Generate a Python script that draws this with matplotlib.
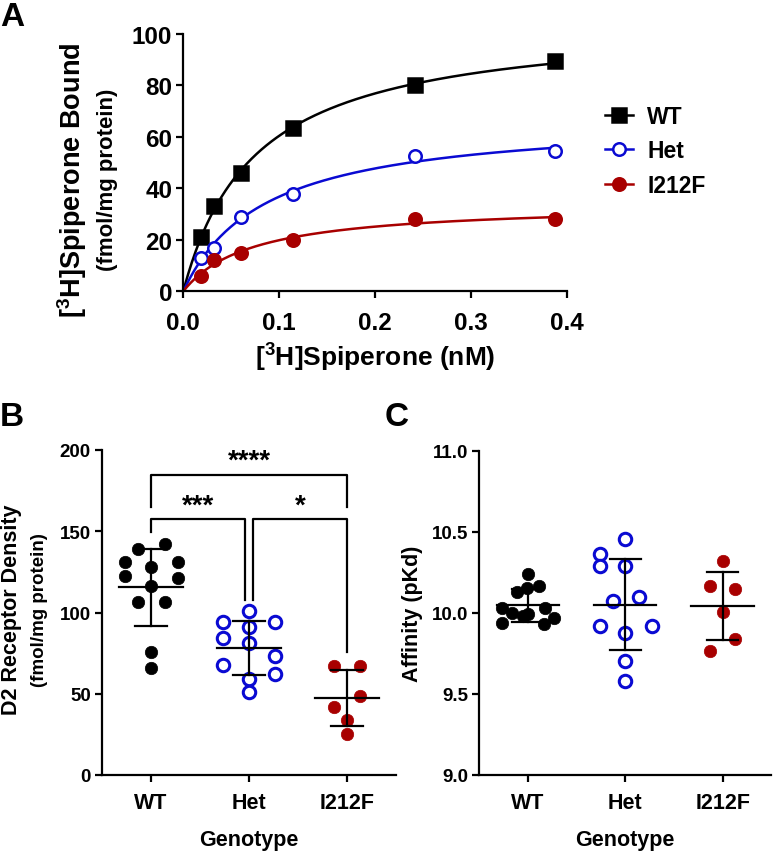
import numpy as np
import matplotlib
matplotlib.use("Agg")
import matplotlib.pyplot as plt
from matplotlib.lines import Line2D

plt.rcParams['font.family'] = ['Liberation Sans', 'DejaVu Sans']
plt.rcParams['font.weight'] = 'bold'
plt.rcParams['mathtext.fontset'] = 'custom'
plt.rcParams['mathtext.rm'] = 'Liberation Sans:bold'
plt.rcParams['mathtext.bf'] = 'Liberation Sans:bold'
plt.rcParams['mathtext.it'] = 'Liberation Sans:bold'

# ---------------- data ----------------
conc = [0.018, 0.032, 0.06, 0.115, 0.242, 0.388]
bound_wt = [21, 33, 46, 63.5, 80, 89.5]
bound_het = [13, 17, 29, 38, 52.5, 54.5]
bound_i212f = [6, 12, 15, 20, 28, 28]

genotypes = ['WT', 'Het', 'I212F']
density_wt = [142, 139, 131, 128, 131, 122.5, 121, 116.5, 106.6, 106.6, 76, 66]
density_het = [101, 94, 94, 91, 84.5, 81, 73, 68, 62, 59, 51]
density_i212f = [67, 67, 48.7, 42, 34, 25]

pkd_wt = [10.24, 10.165, 10.155, 10.13, 10.03, 10.03, 10.00, 9.99, 9.98, 9.97, 9.94, 9.93]
pkd_het = [10.455, 10.36, 10.29, 10.29, 10.07, 10.10, 9.92, 9.92, 9.875, 9.70, 9.58]
pkd_i212f = [10.32, 10.163, 10.147, 10.007, 9.84, 9.767]

# ---------------- layout / styles ----------------
W, H = 774, 853
BLACK = '#000000'
BLUE = '#0a0ad2'
RED = '#a80000'
colors = [BLACK, BLUE, RED]

# horizontal swarm offsets (layout only)
off_b = [
    [0.14, -0.13, -0.265, 0.0, 0.28, -0.265, 0.28, 0.0, -0.13, 0.14, 0.0, 0.0],
    [0.0, -0.265, 0.27, 0.0, -0.265, 0.0, 0.27, -0.265, 0.27, 0.0, 0.0],
    [-0.13, 0.135, 0.135, -0.13, 0.0, 0.0],
]
off_c = [
    [0.0, 0.11, -0.01, -0.11, -0.27, 0.17, -0.16, 0.0, -0.05, 0.27, -0.27, 0.16],
    [0.0, -0.265, -0.265, 0.0, -0.13, 0.14, -0.265, 0.275, 0.0, 0.0, 0.0],
    [0.0, -0.13, 0.13, 0.0, 0.13, -0.13],
]


def fa(x0, y0, x1, y1):
    return [x0 / W, 1 - y1 / H, (x1 - x0) / W, (y1 - y0) / H]


fig = plt.figure(figsize=(W / 100, H / 100), dpi=100)

SPINE_LW = 1.6


def style_axes(ax, tick_fs):
    for s in ['top', 'right']:
        ax.spines[s].set_visible(False)
    for s in ['left', 'bottom']:
        ax.spines[s].set_linewidth(SPINE_LW)
    ax.tick_params(width=SPINE_LW, length=5, labelsize=tick_fs, direction='out', pad=3)
    for lab in ax.get_xticklabels() + ax.get_yticklabels():
        lab.set_fontweight('bold')


# ---------------- Panel A ----------------
axA = fig.add_axes(fa(183.3, 35, 566.6, 292.3))
xfit = np.linspace(0, max(conc), 300)
xa = np.array(conc)


def fit_one_site(y):
    y = np.array(y)
    best = None
    for kd in np.linspace(0.005, 0.5, 4000):
        f = xa / (kd + xa)
        bmax = f.dot(y) / f.dot(f)
        sse = ((y - bmax * f) ** 2).sum()
        if best is None or sse < best[0]:
            best = (sse, bmax, kd)
    return best[1], best[2]


series = [
    ('WT', bound_wt, BLACK, 's', BLACK),
    ('Het', bound_het, BLUE, 'o', 'white'),
    ('I212F', bound_i212f, RED, 'o', RED),
]
handles = []
for name, y, c, m, fc in series:
    bmax, kd = fit_one_site(y)
    axA.plot(xfit, bmax * xfit / (kd + xfit), color=c, lw=1.8, zorder=2)
    ms = 9.5 if m == 's' else 9
    axA.plot(conc, y, linestyle='none', marker=m, ms=ms, mfc=fc, mec=c,
             mew=1.8, zorder=3, clip_on=False)
    handles.append(Line2D([], [], color=c, lw=1.8, marker=m, ms=ms, mfc=fc,
                          mec=c, mew=1.8, label=name))

axA.set_xlim(0, 0.4)
axA.set_ylim(0, 100)
axA.set_xticks([0.0, 0.1, 0.2, 0.3, 0.4])
axA.set_xticklabels(['0.0', '0.1', '0.2', '0.3', '0.4'])
axA.set_yticks([0, 20, 40, 60, 80, 100])
style_axes(axA, 17.5)
axA.tick_params(axis='x', pad=9)

leg = axA.legend(handles=handles, loc='upper left', bbox_to_anchor=(605 / W, 1 - 106 / H),
                 bbox_transform=fig.transFigure, frameon=False, fontsize=16.5,
                 handlelength=1.2, handletextpad=0.65, labelspacing=0.5, borderpad=0,
                 borderaxespad=0)
for t in leg.get_texts():
    t.set_fontweight('bold')

fig.text(72 / W, 1 - 180 / H, r'[$^{3}$H]Spiperone Bound', rotation=90,
         ha='center', va='center', fontsize=19.5, fontweight='bold')
fig.text(108 / W, 1 - 180 / H, '(fmol/mg protein)', rotation=90,
         ha='center', va='center', fontsize=16, fontweight='bold')
fig.text(375 / W, 1 - 358 / H, r'[$^{3}$H]Spiperone (nM)', ha='center', va='center',
         fontsize=19, fontweight='bold')
fig.text(0 / W, 1 - 17 / H, 'A', ha='left', va='center', fontsize=24, fontweight='bold')


# ---------------- dot plots ----------------
def dot_plot(ax, groups, offsets, half_mean=0.33, half_cap=0.16):
    for i, (vals, offs) in enumerate(zip(groups, offsets)):
        c = colors[i]
        v = np.array(vals)
        xs = i + np.array(offs)
        fc = 'white' if i == 1 else c
        ax.scatter(xs, v, s=80, facecolors=fc, edgecolors=c, linewidths=2.2 if i == 1 else 0.5,
                   zorder=3, clip_on=False)
        m = v.mean()
        sd = v.std(ddof=1)
        ax.plot([i - half_mean, i + half_mean], [m, m], color=BLACK, lw=1.6, zorder=4)
        ax.plot([i, i], [m - sd, m + sd], color=BLACK, lw=1.6, zorder=4)
        for yy in (m - sd, m + sd):
            ax.plot([i - half_cap, i + half_cap], [yy, yy], color=BLACK, lw=1.6, zorder=4)
    ax.set_xlim(-0.5, 2.5)
    ax.set_xticks(range(len(genotypes)))
    ax.set_xticklabels(genotypes)


# Panel B
axB = fig.add_axes(fa(102, 451, 396, 776))
dot_plot(axB, [density_wt, density_het, density_i212f], off_b)
axB.set_ylim(0, 200)
axB.set_yticks([0, 50, 100, 150, 200])
style_axes(axB, 13.5)
axB.tick_params(axis='x', labelsize=15.5, pad=7)
axB.set_xlabel('Genotype', fontsize=15.5, fontweight='bold', labelpad=12)

BR_LW = 1.6
# **** bracket
axB.plot([0, 0, 2, 2], [165, 184.5, 184.5, 165], color=BLACK, lw=BR_LW, clip_on=False)
axB.text(1, 193.4, '****', ha='center', va='center', fontsize=20, fontweight='bold')
# *** bracket
axB.plot([0, 0, 0.963, 0.963], [149.6, 157.4, 157.4, 108], color=BLACK, lw=BR_LW)
axB.text(0.483, 165.7, '***', ha='center', va='center', fontsize=20, fontweight='bold')
# * bracket
axB.plot([1.044, 1.044, 2, 2], [108, 157.4, 157.4, 75.6], color=BLACK, lw=BR_LW)
axB.text(1.52, 165.7, '*', ha='center', va='center', fontsize=20, fontweight='bold')

fig.text(12 / W, 1 - 610 / H, 'D2 Receptor Density', rotation=90, ha='center', va='center',
         fontsize=15.5, fontweight='bold')
fig.text(40 / W, 1 - 610 / H, '(fmol/mg protein)', rotation=90, ha='center', va='center',
         fontsize=13.5, fontweight='bold')
fig.text(0 / W, 1 - 418 / H, 'B', ha='left', va='center', fontsize=24, fontweight='bold')

# Panel C
axC = fig.add_axes(fa(479.3, 451.7, 771.3, 776))
dot_plot(axC, [pkd_wt, pkd_het, pkd_i212f], off_c, half_mean=0.32)
axC.set_ylim(9.0, 11.0)
axC.set_yticks([9.0, 9.5, 10.0, 10.5, 11.0])
axC.set_yticklabels(['9.0', '9.5', '10.0', '10.5', '11.0'])
style_axes(axC, 13.5)
axC.tick_params(axis='x', labelsize=15.5, pad=7)
axC.set_xlabel('Genotype', fontsize=15.5, fontweight='bold', labelpad=12)
axC.set_ylabel('Affinity (pKd)', fontsize=15.5, fontweight='bold', labelpad=6)
fig.text(385 / W, 1 - 418 / H, 'C', ha='left', va='center', fontsize=24, fontweight='bold')

fig.savefig('out.png', dpi=100)
